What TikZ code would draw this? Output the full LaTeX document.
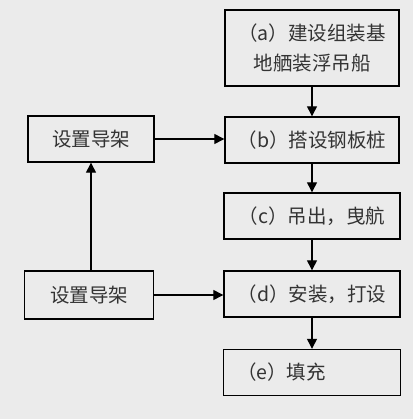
\documentclass[tikz,border=0pt]{standalone}
\usepackage{fontspec}
\setmainfont{Noto Sans CJK SC}
\usetikzlibrary{arrows.meta}

\tikzset{
  stepbox/.style={draw, line width=1.4pt, minimum height=46pt, inner sep=2pt,
    font=\fontsize{19.5}{30}\selectfont, text=black!80},
  arr/.style={line width=1.3pt, -{Triangle[length=10pt,width=10pt]}}
}

\begin{document}
\begin{tikzpicture}[x=1pt,y=-1pt]
        \fill[black!8] (0,0) rectangle (413,419);
        \useasboundingbox (0,0) rectangle (413,419);
        % right column
        \node[stepbox, minimum width=174pt, minimum height=76pt, align=center] (a) at (312,48) {（a）建设组装基\\地舾装浮吊船};
        \node[stepbox, minimum width=174pt] (b) at (312,140) {（b）搭设钢板桩};
        \node[stepbox, minimum width=176pt] (c) at (312,216) {（c）吊出，曳航};
        \node[stepbox, minimum width=176pt] (d) at (312,294) {（d）安装，打设};
        \node[stepbox, minimum width=177pt, text width=150pt, align=left] (e) at (312,372.5) {（e）填充};
        % left column
        \node[stepbox, minimum width=126pt] (g1) at (91,139) {设置导架};
        \node[stepbox, minimum width=129pt, minimum height=48pt] (g2) at (89,295) {设置导架};
        % arrows
        \draw[arr] (a) -- (b);
        \draw[arr] (b) -- (c);
        \draw[arr] (c) -- (d);
        \draw[arr] (d) -- (e);
        \draw[arr] (g1) -- (b.west |- g1);
        \draw[arr] (g2) -- (d.west |- g2);
        \draw[arr] (g2.north -| 91,0) -- (g1.south);
    \end{tikzpicture}
\end{document}
